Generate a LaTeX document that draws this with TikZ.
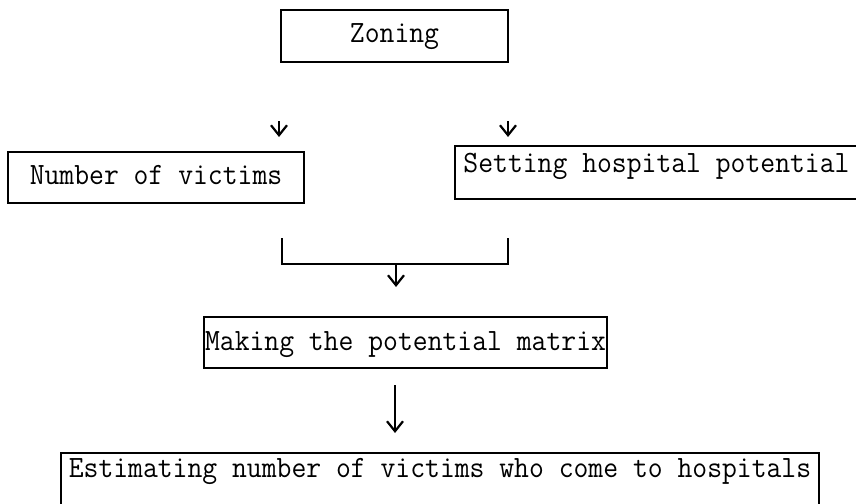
\documentclass[tikz,border=0pt]{standalone}
\usepackage{graphicx}
\usetikzlibrary{arrows.meta}

% monospaced label text, slightly condensed
\newcommand{\boxtext}[1]{\scalebox{0.93}[1]{\fontsize{31}{31}\selectfont\ttfamily #1}}

\tikzset{
  stepbox/.style={draw, line width=2pt, inner sep=0pt, rectangle, anchor=base},
  flow/.style={line width=2.2pt, -{Straight Barb[length=10pt,width=16pt,line width=2.2pt]}},
  joinline/.style={line width=2pt}
}

\begin{document}
\begin{tikzpicture}[x=1pt,y=-1pt]
  \useasboundingbox (0,0) rectangle (856,503);

  % process boxes (positioned at text baseline)
  \node[stepbox, minimum width=227pt, text height=33pt, text depth=19pt]
    (zoning) at (394.5,43) {\boxtext{Zoning}};
  \node[stepbox, minimum width=296pt, text height=32pt, text depth=19pt]
    (victims) at (156,184) {\boxtext{Number of victims}};
  \node[stepbox, minimum width=403pt, text height=26pt, text depth=27pt]
    (hospital) at (656.5,172) {\boxtext{Setting hospital potential}};
  \node[stepbox, minimum width=403pt, text height=33pt, text depth=18pt]
    (matrix) at (405.5,350) {\boxtext{Making the potential matrix}};
  \node[stepbox, minimum width=758pt, text height=24pt, text depth=33pt]
    (estimate) at (440,477) {\boxtext{Estimating number of victims who come to hospitals}};

  % short arrows under the zoning step
  \coordinate (la) at (279,121);
  \coordinate (lb) at (279,137);
  \coordinate (ra) at (508,121);
  \coordinate (rb) at (508,137);
  \draw[flow] (la) -- (lb);
  \draw[flow] (ra) -- (rb);

  % bracket joining the two branches
  \coordinate (jl) at (282,238);
  \coordinate (jr) at (508,238);
  \coordinate (jm) at (396,264);
  \draw[joinline] (jl) -- (282,264) -- (508,264) -- (jr);
  \coordinate (jend) at (396,287);
  \draw[flow] (jm) -- (jend);

  % long arrow to the final step
  \coordinate (ma) at (395,385);
  \coordinate (mb) at (395,433);
  \draw[flow] (ma) -- (mb);
\end{tikzpicture}
\end{document}
